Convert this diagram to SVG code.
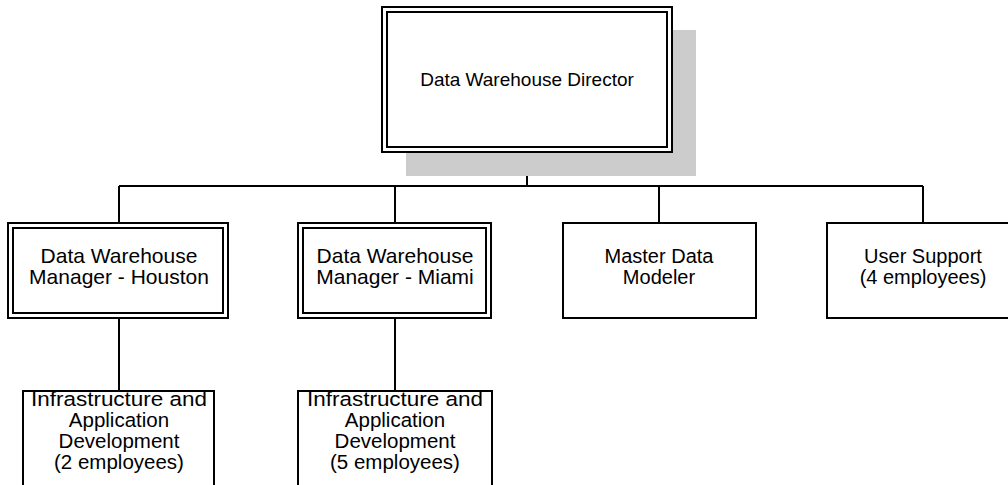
<svg xmlns="http://www.w3.org/2000/svg" width="1008" height="485" viewBox="0 0 1008 485">
<style>
.box{fill:#fff;stroke:#000;stroke-width:2}
.in{fill:none;stroke:#000;stroke-width:2}
.shadow{fill:#cccccc;stroke:none}
.conn{fill:none;stroke:#000;stroke-width:2}
text{font-family:"Liberation Sans",Arial,sans-serif;font-size:20px;fill:#000;text-anchor:middle}
.big{font-size:19px}
.mgr{font-size:21px}
.low{font-size:20.5px}
</style>
<rect width="1008" height="485" fill="#fff"/>
<g id="connectors">
<path class="conn" d="M527 152V186M119 186H923M119 186V223M395 186V223M659 186V223M923 186V223M119 318V391M395 318V391"/>
</g>
<g id="director">
<rect class="shadow" x="406" y="30" width="290" height="146"/>
<rect class="box" x="382" y="7" width="290" height="145"/>
<rect class="in" x="387" y="12" width="280" height="135"/>
<text class="big" x="527" y="86">Data Warehouse Director</text>
</g>
<g id="mgr-houston">
<rect class="box" x="8" y="223" width="220" height="95"/>
<rect class="in" x="13" y="228" width="210" height="85"/>
<text class="mgr" x="119" y="263">Data Warehouse</text>
<text class="mgr" x="119" y="284">Manager - Houston</text>
</g>
<g id="mgr-miami">
<rect class="box" x="298" y="223" width="193" height="95"/>
<rect class="in" x="303" y="228" width="183" height="85"/>
<text class="mgr" x="395" y="263">Data Warehouse</text>
<text class="mgr" x="395" y="284">Manager - Miami</text>
</g>
<g id="master-modeler">
<rect class="box" x="563" y="223" width="193" height="95"/>
<text x="659" y="263">Master Data</text>
<text x="659" y="284">Modeler</text>
</g>
<g id="user-support">
<rect class="box" x="827" y="223" width="193" height="95"/>
<text x="923" y="263">User Support</text>
<text x="923" y="284">(4 employees)</text>
</g>
<g id="infra-houston">
<rect class="box" x="23" y="391" width="191" height="110"/>
<text class="low" x="119" y="406" textLength="176" lengthAdjust="spacingAndGlyphs">Infrastructure and</text>
<text class="low" x="119" y="427">Application</text>
<text class="low" x="119" y="448">Development</text>
<text class="low" x="119" y="469">(2 employees)</text>
</g>
<g id="infra-miami">
<rect class="box" x="298" y="391" width="194" height="110"/>
<text class="low" x="395" y="406" textLength="176" lengthAdjust="spacingAndGlyphs">Infrastructure and</text>
<text class="low" x="395" y="427">Application</text>
<text class="low" x="395" y="448">Development</text>
<text class="low" x="395" y="469">(5 employees)</text>
</g>
</svg>
